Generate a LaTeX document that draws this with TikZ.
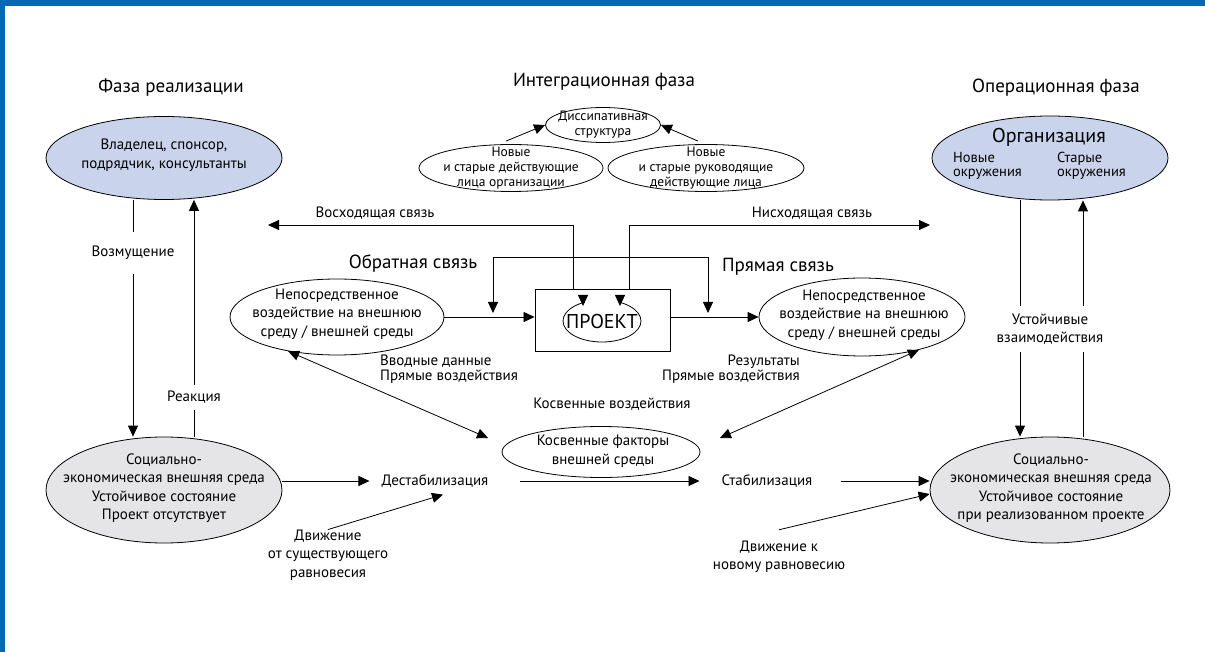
\documentclass[tikz,border=0pt]{standalone}
\usepackage{fontspec}
\setmainfont{PT Sans}
\usetikzlibrary{shapes.geometric,arrows.meta,calc}
\definecolor{frameblue}{RGB}{0,104,180}
\definecolor{lblue}{RGB}{201,212,236}
\definecolor{lgray}{RGB}{229,229,231}
\tikzset{
 txt/.style={font=\fontsize{15}{18.5}\selectfont, align=center, inner sep=0pt},
 sml/.style={font=\fontsize{13.5}{15}\selectfont, align=center, inner sep=0pt},
 ttl/.style={font=\fontsize{19}{22}\selectfont, inner sep=0pt},
 big/.style={font=\fontsize{20}{22}\selectfont, inner sep=0pt},
 ell/.style={draw, ellipse, line width=0.8pt, inner sep=0pt},
 arr/.style={-{Triangle[length=11pt,width=10pt]}, line width=0.8pt},
 darr/.style={{Triangle[length=11pt,width=10pt]}-{Triangle[length=11pt,width=10pt]}, line width=0.8pt},
}
\begin{document}
\begin{tikzpicture}[x=1pt,y=-1pt]
\useasboundingbox (0,0) rectangle (1205,652);
\fill[white] (0,0) rectangle (1205,652);
\fill[frameblue] (0,0) rectangle (1205,6);
\fill[frameblue] (0,0) rectangle (5,652);

% titles
\node[ttl] (t1) at (171,88) {Фаза реализации};
\node[ttl] (t2) at (604,82) {Интеграционная фаза};
\node[ttl] (t3) at (1056,88) {Операционная фаза};

% left column
\node[ell, fill=lblue, minimum width=236, minimum height=83] (own) at (164,158) {};
\node[txt] (ownT) at (164,155) {Владелец, спонсор,\\подрядчик, консультанты};
\node[ell, fill=lgray, minimum width=236, minimum height=106] (envL) at (164,490) {};
\node[txt] (envLT) at (164,488) {Социально-\\экономическая внешняя среда\\Устойчивое состояние\\Проект отсутствует};
\draw[arr] ([xshift=-31pt]own.south) -- ([xshift=-31pt]envL.north)
  node[pos=0.225, txt, fill=white, inner xsep=2pt, inner ysep=14pt] (vozm) {Возмущение};
\draw[arr] ([xshift=30pt]envL.north) -- ([xshift=30pt]own.south)
  node[pos=0.165, txt, fill=white, inner xsep=2pt, inner ysep=6pt] (reak) {Реакция};

% right column
\node[ell, fill=lblue, minimum width=236, minimum height=84] (org) at (1050,158) {};
\node[big] (orgT) at (1049,137) {Организация};
\node[txt, font=\fontsize{14.5}{13.5}\selectfont, align=left, anchor=west] (newE) at (953,166) {Новые\\окружения};
\node[txt, font=\fontsize{14.5}{13.5}\selectfont, align=left, anchor=west] (oldE) at (1057,166) {Старые\\окружения};
\node[ell, fill=lgray, minimum width=240, minimum height=106] (envR) at (1050,490) {};
\node[txt] (envRT) at (1051,488) {Социально-\\экономическая внешняя среда\\Устойчивое состояние\\при реализованном проекте};
\draw[arr] ([xshift=-30pt]org.south) -- ([xshift=-30pt]envR.north);
\draw[arr] ([xshift=33pt]envR.north) -- ([xshift=33pt]org.south);
\node[txt, fill=white, inner ysep=8pt, inner xsep=2pt] (ustT) at (1050,329) {Устойчивые\\взаимодействия};

% integration phase
\node[ell, minimum width=115, minimum height=35] (diss) at (603,125) {};
\node[sml] (dissT) at (603,125) {Диссипативная\\структура};
\node[ell, minimum width=184, minimum height=47] (actL) at (511,168) {};
\node[sml] (actLT) at (511,168) {Новые\\и старые действующие\\лица организации};
\node[ell, minimum width=196, minimum height=47] (actR) at (706,168) {};
\node[sml] (actRT) at (706,168) {Новые\\и старые руководящие\\действующие лица};
\draw[arr] ([xshift=-5pt,yshift=3pt]actL.north) -- (diss.west);
\draw[arr] ([xshift=-8pt,yshift=3pt]actR.north) -- (diss.east);

% project
\node[draw, line width=0.9pt, minimum width=135, minimum height=62, inner sep=0pt] (proj) at (602.5,320) {};
\node[ell, minimum width=78, minimum height=42] (pe) at (602,321) {};
\fill[white] (585,296) rectangle (619,304);
\node[big] (peT) at (602,322) {ПРОЕКТ};
\coordinate (tipA) at (583,306);
\coordinate (tipB) at (620,306);
\draw[arr] (583,295) -- (tipA);
\draw[arr] (620,295) -- (tipB);

% direct impact ellipses
\node[ell, minimum width=214, minimum height=76] (dirL) at (337,317) {};
\node[txt] (dirLT) at (337,314) {Непосредственное\\воздействие на внешнюю\\среду / внешней среды};
\node[ell, minimum width=206, minimum height=78] (dirR) at (862,317) {};
\node[txt] (dirRT) at (864,315) {Непосредственное\\воздействие на внешнюю\\среду / внешней среды};
\draw[arr] (dirL.east) -- (dirL.east -| proj.west);
\draw[arr] (proj.east |- dirR.west) -- (dirR.west);

% feedback lines
\coordinate (upEnd) at (268,225);
\coordinate (dnEnd) at (930,225);
\coordinate (fbL) at (493,313);
\coordinate (fbR) at (708,313);
\draw[arr] ([xshift=-29.5pt]proj.north) |- (upEnd);
\draw[arr] ([xshift=26.5pt]proj.north) |- (dnEnd);
\draw[darr] (fbL) -- ++(0,-56) -| (fbR);
\node[txt] (upT) at (375,213) {Восходящая связь};
\node[txt] (dnT) at (812,213) {Нисходящая связь};
\node[ttl] (fbT) at (413,264) {Обратная связь};
\node[ttl] (ffT) at (778,267) {Прямая связь};
\node[txt, font=\fontsize{15}{15}\selectfont, align=left, anchor=west] (inT) at (380,369) {Вводные данные\\Прямые воздействия};
\node[txt, font=\fontsize{15}{15}\selectfont, align=right, anchor=east] (resT) at (800,369) {Результаты\\Прямые воздействия};

% indirect
\node[txt] (indT) at (612,404) {Косвенные воздействия};
\node[ell, minimum width=198, minimum height=51] (ind) at (601,452) {};
\node[txt] (indTT) at (603,451) {Косвенные факторы\\внешней среды};
\coordinate (iL) at (488,438);
\coordinate (iR) at (720,438);
\draw[darr] (dirL.215) -- (iL);
\draw[darr] (dirR.330) -- (iR);

% bottom row
\node[txt] (destab) at (435,481) {Дестабилизация};
\node[txt] (stab) at (767,481) {Стабилизация};
\draw[arr] (envL.east |- destab) -- ([xshift=-12pt]destab.west);
\draw[arr] ([xshift=31pt]destab.east) -- ([xshift=-22pt]stab.west);
\draw[arr] ([xshift=28pt]stab.east) -- (stab -| envR.west);
\node[txt] (mvL) at (328,555) {Движение\\от существующего\\равновесия};
\draw[arr] (mvL.north) -- ($(destab.south)+(8,7)$);
\node[txt] (mvR) at (779,557) {Движение к\\новому равновесию};
\draw[arr] ([yshift=11pt]mvR.north) -- ([yshift=-4pt]envR.west);
\end{tikzpicture}
\end{document}
